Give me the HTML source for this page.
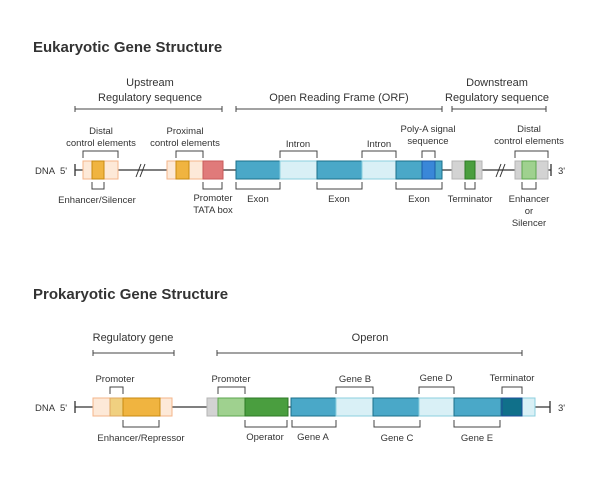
<!DOCTYPE html>
<html><head><meta charset="utf-8"><style>
body{margin:0;background:#fff}
svg{display:block;font-family:"Liberation Sans",sans-serif}
text{fill:#333;font-size:9.5px}
.t{font-size:15px;font-weight:bold;fill:#333}
.h{font-size:11px}
.br{fill:none;stroke:#444;stroke-width:1}
.ln{stroke:#333;stroke-width:1.3}
</style></head><body>
<svg width="600" height="480" viewBox="0 0 600 480">
<text class="t" x="33" y="52">Eukaryotic Gene Structure</text>
<g>
<text class="h" x="150" y="86" text-anchor="middle">Upstream</text>
<text class="h" x="150" y="101" text-anchor="middle">Regulatory sequence</text>
<text class="h" x="339" y="101" text-anchor="middle">Open Reading Frame (ORF)</text>
<text class="h" x="497" y="86" text-anchor="middle">Downstream</text>
<text class="h" x="497" y="101" text-anchor="middle">Regulatory sequence</text>
<path class="br" stroke="#666" d="M75 109H222M75 106V112M222 106V112M236 109H442M236 106V112M442 106V112M452 109H546M452 106V112M546 106V112"/>
</g>
<g>
<text x="35" y="174">DNA</text><text x="60" y="174">5'</text>
<line class="ln" x1="75" y1="170" x2="551" y2="170"/>
<line class="ln" x1="75" y1="164" x2="75" y2="176"/>
<line class="ln" x1="551" y1="164" x2="551" y2="176"/>
<text x="558" y="174">3'</text>
<path d="M136 177L141 164M140 177L145 164M496 177L501 164M500 177L505 164" stroke="#333" stroke-width="1"/>
<rect x="83" y="161" width="35" height="18" fill="#fde9d8" stroke="#f4b58a"/>
<rect x="92" y="161" width="12" height="18" fill="#f0b440" stroke="#c98a10"/>
<rect x="167" y="161" width="36" height="18" fill="#fde9d8" stroke="#f4b58a"/>
<rect x="176" y="161" width="13" height="18" fill="#f0b440" stroke="#c98a10"/>
<rect x="203" y="161" width="20" height="18" fill="#e07a7a" stroke="#c85a5a"/>
<rect x="236" y="161" width="44" height="18" fill="#4aa8c8" stroke="#1b6f8a"/>
<rect x="280" y="161" width="37" height="18" fill="#d9f0f6" stroke="#8ccfdf"/>
<rect x="317" y="161" width="45" height="18" fill="#4aa8c8" stroke="#1b6f8a"/>
<rect x="362" y="161" width="34" height="18" fill="#d9f0f6" stroke="#8ccfdf"/>
<rect x="396" y="161" width="46" height="18" fill="#4aa8c8" stroke="#1b6f8a"/>
<rect x="422" y="161" width="13" height="18" fill="#3a87d8" stroke="#1c5ea8"/>
<rect x="452" y="161" width="30" height="18" fill="#d3d3d3" stroke="#b5b5b5"/>
<rect x="465" y="161" width="10" height="18" fill="#4a9e3f" stroke="#2c7a25"/>
<rect x="515" y="161" width="33" height="18" fill="#d3d3d3" stroke="#b5b5b5"/>
<rect x="522" y="161" width="14" height="18" fill="#9fd18f" stroke="#5ea64f"/>
</g>
<g>
<path class="br" d="M83 158V151H118V158M176 158V151H203V158M280 158V151H317V158M362 158V151H396V158M422 158V151H435V158M515 158V151H548V158"/>
<path class="br" d="M92 182V189H104V182M203 182V189H222V182M236 182V189H280V182M317 182V189H362V182M396 182V189H442V182M465 182V189H475V182M522 182V189H536V182"/>
</g>
<g text-anchor="middle">
<text x="101" y="134">Distal</text><text x="101" y="146">control elements</text>
<text x="185" y="134">Proximal</text><text x="185" y="146">control elements</text>
<text x="298" y="147">Intron</text><text x="379" y="147">Intron</text>
<text x="428" y="132">Poly-A signal</text><text x="428" y="144">sequence</text>
<text x="529" y="132">Distal</text><text x="529" y="144">control elements</text>
<text x="97" y="203">Enhancer/Silencer</text>
<text x="213" y="201">Promoter</text><text x="213" y="213">TATA box</text>
<text x="258" y="202">Exon</text><text x="339" y="202">Exon</text><text x="419" y="202">Exon</text>
<text x="470" y="202">Terminator</text>
<text x="529" y="202">Enhancer</text><text x="529" y="214">or</text><text x="529" y="226">Silencer</text>
</g>

<text class="t" x="33" y="299">Prokaryotic Gene Structure</text>
<g>
<text class="h" x="133" y="341" text-anchor="middle">Regulatory gene</text>
<text class="h" x="370" y="341" text-anchor="middle">Operon</text>
<path class="br" stroke="#666" d="M93 353H174M93 350V356M174 350V356M217 353H522M217 350V356M522 350V356"/>
</g>
<g>
<text x="35" y="411">DNA</text><text x="60" y="411">5'</text>
<line class="ln" x1="75" y1="407" x2="550" y2="407"/>
<line class="ln" x1="75" y1="401" x2="75" y2="413"/>
<line class="ln" x1="550" y1="401" x2="550" y2="413"/>
<text x="558" y="411">3'</text>
<rect x="93" y="398" width="79" height="18" fill="#fde9d8" stroke="#f4b58a"/>
<rect x="110" y="398" width="13" height="18" fill="#f0d080" stroke="#e0a860"/>
<rect x="123" y="398" width="37" height="18" fill="#f0b440" stroke="#c98a10"/>
<rect x="207" y="398" width="11" height="18" fill="#d3d3d3" stroke="#b5b5b5"/>
<rect x="218" y="398" width="27" height="18" fill="#9fd18f" stroke="#5ea64f"/>
<rect x="245" y="398" width="43" height="18" fill="#4a9e3f" stroke="#2c7a25"/>
<rect x="291" y="398" width="45" height="18" fill="#4aa8c8" stroke="#1b6f8a"/>
<rect x="336" y="398" width="37" height="18" fill="#d9f0f6" stroke="#8ccfdf"/>
<rect x="373" y="398" width="46" height="18" fill="#4aa8c8" stroke="#1b6f8a"/>
<rect x="419" y="398" width="35" height="18" fill="#d9f0f6" stroke="#8ccfdf"/>
<rect x="454" y="398" width="47" height="18" fill="#4aa8c8" stroke="#1b6f8a"/>
<rect x="522" y="398" width="13" height="18" fill="#d9f0f6" stroke="#8ccfdf"/>
<rect x="502" y="398" width="20" height="18" fill="#10708a" stroke="#1c4f9a"/>
</g>
<g>
<path class="br" d="M110 394V387H123V394M218 394V387H245V394M336 394V387H373V394M419 394V387H454V394M502 394V387H522V394"/>
<path class="br" d="M123 420V427H159V420M245 420V427H287V420M292 420V427H336V420M374 420V427H420V420M454 420V427H500V420"/>
</g>
<g text-anchor="middle">
<text x="115" y="382">Promoter</text><text x="231" y="382">Promoter</text>
<text x="355" y="382">Gene B</text><text x="436" y="381">Gene D</text><text x="512" y="381">Terminator</text>
<text x="141" y="441">Enhancer/Repressor</text>
<text x="265" y="440">Operator</text><text x="313" y="440">Gene A</text>
<text x="397" y="441">Gene C</text><text x="477" y="441">Gene E</text>
</g>
</svg>
</body></html>
